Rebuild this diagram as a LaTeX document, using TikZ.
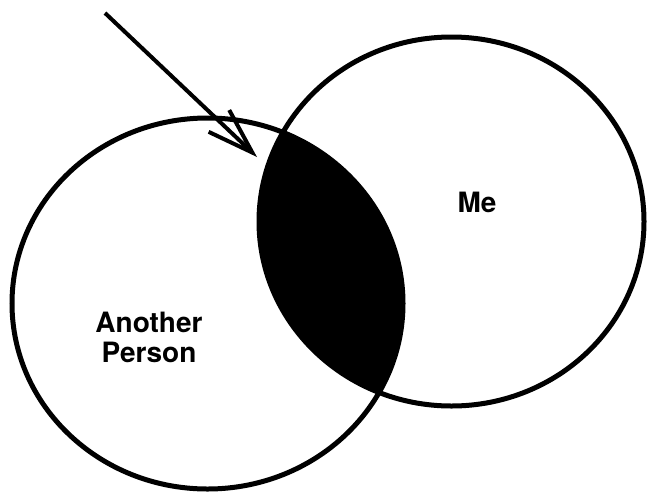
\documentclass[tikz,border=0pt]{standalone}
\usepackage{fontspec}
\setmainfont{TeX Gyre Heros}
\usepackage{tikz}
\usetikzlibrary{arrows.meta, positioning}
\tikzset{
  setline/.style={draw=black,line width=5pt},
  setlabel/.style={inner sep=0pt,align=center,font=\bfseries\fontsize{28}{30}\selectfont},
  pointer/.style={-{Straight Barb[length=46pt,width=30pt,line width=4pt]},line width=4pt,black},
}
\begin{document}
\begin{tikzpicture}[x=1pt,y=-1pt]
  \useasboundingbox (0,0) rectangle (647,491);
  % overlap of the two sets
  \begin{scope}
    \clip (207.5,303.5) ellipse [x radius=195.5pt,y radius=185.5pt];
    \fill[black] (451.5,221.5) ellipse [x radius=192.5pt,y radius=184.5pt];
  \end{scope}
  \draw[setline] (207.5,303.5) ellipse [x radius=195.5pt,y radius=185.5pt];
  \draw[setline] (451.5,221.5) ellipse [x radius=192.5pt,y radius=184.5pt];
  \node[setlabel] (lOther) at (149,337) {Another\\Person};
  \node[setlabel] (lMe) at (477,202.5) {Me};
  \coordinate (pStart) at (105,13);
  \coordinate (pTip) at (257,157);
  \draw[pointer] (pStart) -- (pTip);
\end{tikzpicture}
\end{document}
